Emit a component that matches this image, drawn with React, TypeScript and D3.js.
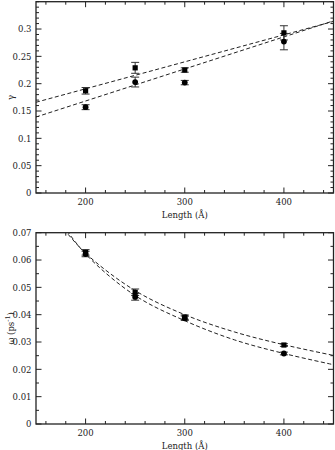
import React from "react";
import * as d3 from "d3";

// measured lengths (Å)
const lengths = [200, 250, 300, 400];

// gamma panel
const gammaSquare = [0.187, 0.229, 0.225, 0.293];
const gammaSquareErr = [0.006, 0.01, 0.004, 0.013];
const gammaCircle = [0.157, 0.203, 0.202, 0.277];
const gammaCircleErr = [0.0045, 0.009, 0.004, 0.015];
const gammaFitL = [150, 450];
const gammaFitUpper = [0.166, 0.314];
const gammaFitLower = [0.139, 0.315];
const gammaTickLabels = [0, 0.05, 0.1, 0.15, 0.2, 0.25, 0.3];

// omega panel
const omegaSquare = [0.0628, 0.0482, 0.0391, 0.0289];
const omegaSquareErr = [0.001, 0.0012, 0.0008, 0.0005];
const omegaCircle = [0.0622, 0.0465, 0.0387, 0.0258];
const omegaCircleErr = [0.001, 0.0012, 0.0008, 0.0005];
const omegaFitL = [170, 200, 250, 300, 350, 400, 450];
const omegaFitUpper = [0.0749, 0.0625, 0.0488, 0.04, 0.0337, 0.029, 0.0251];
const omegaFitLower = [0.0765, 0.0622, 0.047, 0.0378, 0.0308, 0.0258, 0.0217];
const omegaTickLabels = [0, 0.01, 0.02, 0.03, 0.04, 0.05, 0.06, 0.07];

const xMajor = [200, 300, 400];
const xMinor = d3.range(160, 450, 20);

const FONT = "'DejaVu Serif', serif";
const left = 36;
const right = 333.5;

type Fit = { xs: number[]; ys: number[]; curve: d3.CurveFactory };

type PanelProps = {
  id: string;
  top: number;
  bottom: number;
  yMax: number;
  yMajor: number[];
  yMinor: number[];
  yLabel: React.ReactNode;
  sq: number[];
  sqErr: number[];
  ci: number[];
  ciErr: number[];
  fits: Fit[];
};

function Panel(p: PanelProps) {
  const x = d3.scaleLinear().domain([150, 450]).range([left, right]);
  const y = d3.scaleLinear().domain([0, p.yMax]).range([p.bottom, p.top]);
  const fitLine = (f: Fit) =>
    d3
      .line<number>()
      .x((_, i) => x(f.xs[i]))
      .y((d) => y(d))
      .curve(f.curve)(f.ys) || "";

  const errBar = (cx: number, v: number, e: number, k: string) => (
    <g key={k} stroke="#333" strokeWidth={1}>
      <line x1={cx} x2={cx} y1={y(v - e)} y2={y(v + e)} />
      <line x1={cx - 4} x2={cx + 4} y1={y(v - e)} y2={y(v - e)} />
      <line x1={cx - 4} x2={cx + 4} y1={y(v + e)} y2={y(v + e)} />
    </g>
  );

  const midY = (p.top + p.bottom) / 2;
  const isMajor = (t: number) => p.yMajor.some((m) => Math.abs(m - t) < 1e-9);

  return (
    <g>
      <defs>
        <clipPath id={p.id}>
          <rect x={left} y={p.top} width={right - left} height={p.bottom - p.top} />
        </clipPath>
      </defs>
      {/* ticks, mirrored on all sides */}
      <g stroke="#222" strokeWidth={1}>
        {xMinor.map((t) => {
          const len = xMajor.includes(t) ? 5.5 : 3;
          return (
            <g key={"xt" + t}>
              <line x1={x(t)} x2={x(t)} y1={p.bottom} y2={p.bottom - len} />
              <line x1={x(t)} x2={x(t)} y1={p.top} y2={p.top + len} />
            </g>
          );
        })}
        {p.yMinor.map((t) => {
          const len = isMajor(t) ? 5.5 : 3;
          return (
            <g key={"yt" + t}>
              <line x1={left} x2={left + len} y1={y(t)} y2={y(t)} />
              <line x1={right} x2={right - len} y1={y(t)} y2={y(t)} />
            </g>
          );
        })}
      </g>
      {/* fits */}
      <g clipPath={`url(#${p.id})`} fill="none" stroke="#222" strokeWidth={1} strokeDasharray="4,2.5">
        {p.fits.map((f, i) => (
          <path key={i} d={fitLine(f)} />
        ))}
      </g>
      {/* data */}
      {lengths.map((L, i) => errBar(x(L), p.sq[i], p.sqErr[i], "se" + i))}
      {lengths.map((L, i) => errBar(x(L), p.ci[i], p.ciErr[i], "ce" + i))}
      {lengths.map((L, i) => (
        <rect key={"s" + i} x={x(L) - 2.6} y={y(p.sq[i]) - 2.6} width={5.2} height={5.2} fill="#000" />
      ))}
      {lengths.map((L, i) => (
        <circle key={"c" + i} cx={x(L)} cy={y(p.ci[i])} r={2.9} fill="#000" />
      ))}
      {/* frame */}
      <rect x={left} y={p.top} width={right - left} height={p.bottom - p.top} fill="none" stroke="#222" strokeWidth={1.3} />
      {/* tick labels */}
      <g fontFamily={FONT} fontSize={8.5} fill="#222">
        {p.yMajor.map((t) => (
          <text key={"yl" + t} x={left - 4.5} y={y(t) + 3.2} textAnchor="end">
            {String(t)}
          </text>
        ))}
        {xMajor.map((t) => (
          <text key={"xl" + t} x={x(t)} y={p.bottom + 12} textAnchor="middle">
            {t}
          </text>
        ))}
        <text x={(left + right) / 2} y={p.bottom + 24.5} textAnchor="middle">
          Length (Å)
        </text>
        <text transform={`translate(14,${midY}) rotate(-90)`} textAnchor="middle">
          {p.yLabel}
        </text>
      </g>
    </g>
  );
}

export default function App() {
  return (
    <svg width={335} height={450} style={{ position: "absolute", left: 0, top: 0, background: "#fff" }}>
      <rect width={335} height={450} fill="#fff" />
      <Panel
        id="clipG"
        top={1.7}
        bottom={193}
        yMax={0.35}
        yMajor={gammaTickLabels}
        yMinor={d3.range(0, 0.351, 0.01).map((v) => +v.toFixed(3))}
        yLabel={<tspan>γ</tspan>}
        sq={gammaSquare}
        sqErr={gammaSquareErr}
        ci={gammaCircle}
        ciErr={gammaCircleErr}
        fits={[
          { xs: gammaFitL, ys: gammaFitUpper, curve: d3.curveLinear },
          { xs: gammaFitL, ys: gammaFitLower, curve: d3.curveLinear },
        ]}
      />
      <Panel
        id="clipW"
        top={232.7}
        bottom={424}
        yMax={0.07}
        yMajor={omegaTickLabels}
        yMinor={d3.range(0, 0.0701, 0.005).map((v) => +v.toFixed(4))}
        yLabel={
          <>
            <tspan>ω (ps</tspan>
            <tspan dy={-4} fontSize={6.5}>-1</tspan>
            <tspan dy={4}>)</tspan>
          </>
        }
        sq={omegaSquare}
        sqErr={omegaSquareErr}
        ci={omegaCircle}
        ciErr={omegaCircleErr}
        fits={[
          { xs: omegaFitL, ys: omegaFitUpper, curve: d3.curveCatmullRom },
          { xs: omegaFitL, ys: omegaFitLower, curve: d3.curveCatmullRom },
        ]}
      />
    </svg>
  );
}
